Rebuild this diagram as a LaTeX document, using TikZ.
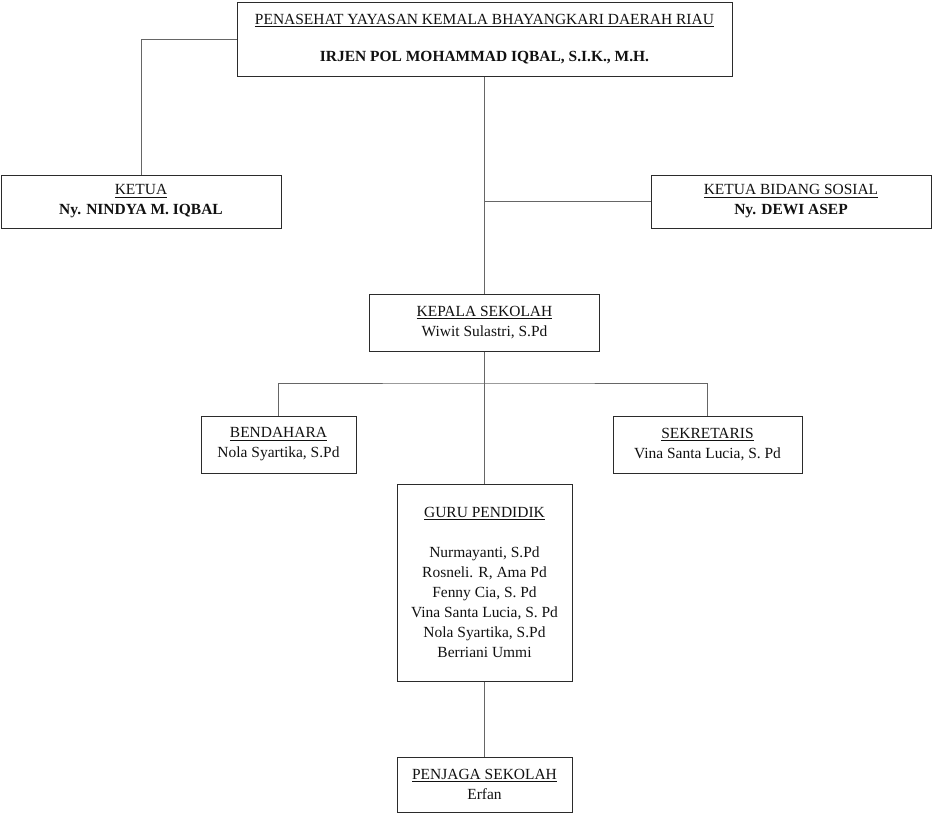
\documentclass[tikz,border=0pt]{standalone}
\usepackage{fontspec}
\setmainfont{Liberation Serif}
\usepackage{tikz}
\usetikzlibrary{positioning}
\definecolor{boxline}{HTML}{2B2B2B}
\definecolor{conline}{HTML}{666666}
\definecolor{ink}{HTML}{111111}

\begin{document}
\begin{tikzpicture}[
  x=0.75pt, y=-0.75pt,
  font=\fontsize{11.6}{15}\selectfont,
  unit/.style={draw=boxline, line width=0.75pt, align=center, text=ink, inner sep=0pt},
  link/.style={draw=conline, line width=0.6pt}
]
  \useasboundingbox (0,0) rectangle (933,814);
  \node[unit, minimum width=495*0.75pt, minimum height=74*0.75pt] (penasehat) at (484.5,39)
    {\underline{PENASEHAT YAYASAN KEMALA BHAYANGKARI DAERAH RIAU}\\[13pt]\textbf{IRJEN POL MOHAMMAD IQBAL, S.I.K., M.H.}};
  \node[unit, minimum width=280*0.75pt, minimum height=53*0.75pt] (ketua) at (141,201.5)
    {\underline{KETUA}\\\textbf{Ny. NINDYA M. IQBAL}};
  \node[unit, minimum width=280*0.75pt, minimum height=53*0.75pt] (sosial) at (791,201.5)
    {\underline{KETUA BIDANG SOSIAL}\\\textbf{Ny. DEWI ASEP}};
  \node[unit, minimum width=230*0.75pt, minimum height=57*0.75pt] (kepala) at (484.5,322.5)
    {\underline{KEPALA SEKOLAH}\\Wiwit Sulastri, S.Pd};
  \node[unit, minimum width=155*0.75pt, minimum height=57*0.75pt] (bendahara) at (278.5,444.5)
    {\underline{BENDAHARA}\\Nola Syartika, S.Pd};
  \node[unit, minimum width=189*0.75pt, minimum height=57*0.75pt] (sekretaris) at (707.5,444.5)
    {\underline{SEKRETARIS}\\Vina Santa Lucia, S. Pd};
  \node[unit, minimum width=175*0.75pt, minimum height=197*0.75pt] (guru) at (484.5,582.5)
    {\underline{GURU PENDIDIK}\\[15pt]Nurmayanti, S.Pd\\Rosneli. R, Ama Pd\\Fenny Cia, S. Pd\\Vina Santa Lucia, S. Pd\\Nola Syartika, S.Pd\\Berriani Ummi};
  \node[unit, minimum width=175*0.75pt, minimum height=55*0.75pt] (penjaga) at (484.5,784.5)
    {\underline{PENJAGA SEKOLAH}\\Erfan};

  \coordinate (bus) at (484.5,383);
  \draw[link] (penasehat.west) -| (ketua.north);
  \draw[link] (penasehat.south) -- (kepala.north);
  \draw[link] (sosial.west) -- (sosial.west -| kepala.north);
  \draw[link] (kepala.south) -- (guru.north);
  \draw[link] (bendahara.north) |- (bus) -| (sekretaris.north);
  \draw[link] (guru.south) -- (penjaga.north);
\end{tikzpicture}
\end{document}
